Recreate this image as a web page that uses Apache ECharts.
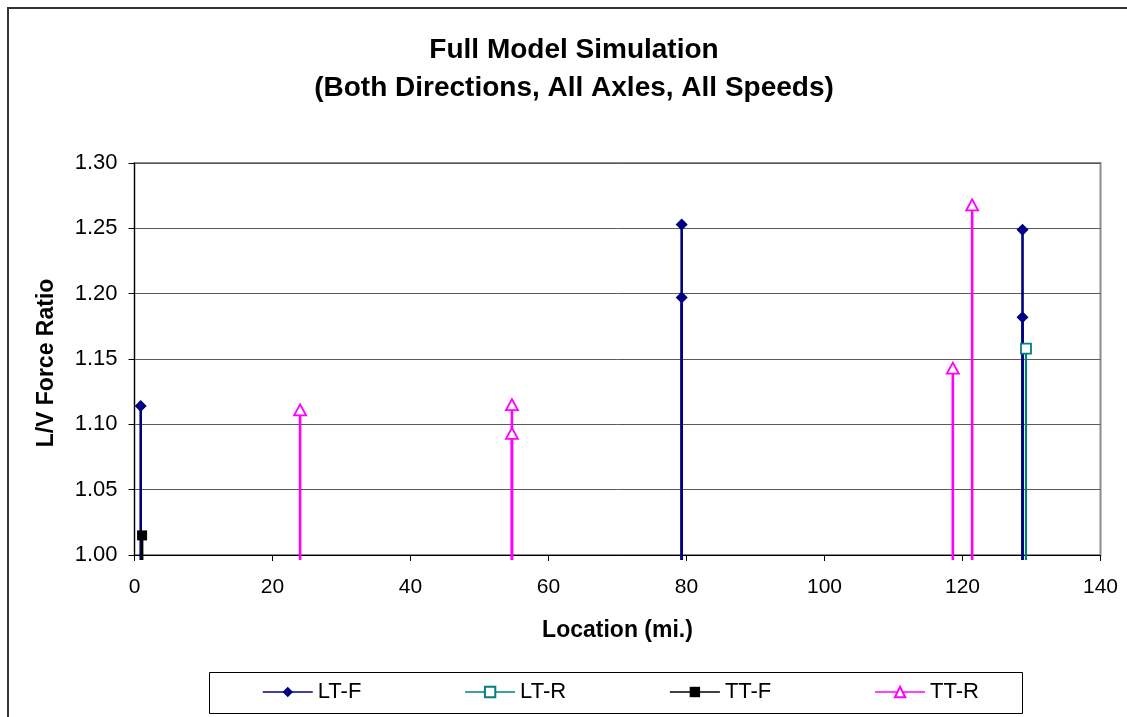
<!DOCTYPE html>
<html>
<head>
<meta charset="utf-8">
<script src="https://cdn.jsdelivr.net/npm/echarts@6/dist/echarts.min.js"></script>
<style>
  html, body { margin: 0; padding: 0; background: #fff; }
  #chart { width: 1127px; height: 717px; }
</style>
</head>
<body>
<div id="chart"></div>
<script>
// L/V force ratio by location, one list of [location, ratio] pairs per series
const ltF = [[0.9, 1.114], [79.3, 1.253], [79.3, 1.197], [128.7, 1.249], [128.7, 1.182]];
const ltR = [[129.2, 1.158]];
const ttF = [[1.1, 1.015]];
const ttR = [[24.0, 1.111], [54.7, 1.115], [54.7, 1.093], [118.6, 1.143], [121.4, 1.268]];

const seriesNames = ['LT-F', 'LT-R', 'TT-F', 'TT-R'];
const xTicks = { min: 0, max: 140, step: 20 };
const yTicks = { min: 1.0, max: 1.3, step: 0.05 };

const FONT = 'Liberation Sans, Arial, sans-serif';

const styles = {
  'LT-F': { color: '#000080', symbol: 'diamond', size: 12, fill: '#000080', stem: 2.6 },
  'LT-R': { color: '#008080', symbol: 'rect', size: 10, fill: '#ffffff', stem: 2.2 },
  'TT-F': { color: '#000000', symbol: 'rect', size: 10, fill: '#000000', stem: 2.6 },
  'TT-R': { color: '#ff00ff', symbol: 'triangle', size: [12, 11], fill: '#ffffff', stem: 2.6 }
};
const dataByName = { 'LT-F': ltF, 'LT-R': ltR, 'TT-F': ttF, 'TT-R': ttR };

// vertical drop line from each point down through the baseline
function stemSeries(name) {
  const st = styles[name];
  return {
    type: 'custom',
    data: dataByName[name],
    encode: { x: 0, y: 1 },
    z: 2,
    silent: true,
    renderItem: function (params, api) {
      const p = api.coord([api.value(0), api.value(1)]);
      const b = api.coord([api.value(0), yTicks.min]);
      return {
        type: 'line',
        shape: { x1: p[0], y1: p[1], x2: p[0], y2: b[1] + 5 },
        style: { stroke: st.color, lineWidth: st.stem }
      };
    }
  };
}

// markers; the connecting line is hidden, only the legend shows it
function markerSeries(name) {
  const st = styles[name];
  return {
    name: name,
    type: 'line',
    data: dataByName[name],
    z: 5,
    symbol: st.symbol,
    symbolSize: st.size,
    showAllSymbol: true,
    lineStyle: { color: st.color, width: 1.5, opacity: 0 },
    itemStyle: { color: st.fill, borderColor: st.color, borderWidth: st.fill === '#ffffff' ? 1.8 : 0 },
    emphasis: { disabled: true }
  };
}

const series = [];
['TT-R', 'LT-F', 'LT-R', 'TT-F'].forEach(n => series.push(stemSeries(n)));
seriesNames.forEach(n => series.push(markerSeries(n)));

const chart = echarts.init(document.getElementById('chart'), null, { renderer: 'canvas' });
chart.setOption({
  animation: false,
  backgroundColor: '#ffffff',
  title: {
    text: 'Full Model Simulation\n(Both Directions, All Axles, All Speeds)',
    left: 569,
    top: 26,
    textAlign: 'center',
    textStyle: { fontFamily: FONT, fontSize: 28, fontWeight: 'bold', color: '#000', lineHeight: 38 }
  },
  grid: {
    left: 134.5, right: 26.5, top: 163, bottom: 162,
    show: true, borderColor: '#8c8c8c', borderWidth: 2, backgroundColor: '#fff'
  },
  xAxis: {
    type: 'value',
    min: xTicks.min, max: xTicks.max, interval: xTicks.step,
    name: 'Location (mi.)',
    nameLocation: 'middle',
    nameGap: 64,
    nameTextStyle: { fontFamily: FONT, fontSize: 23, fontWeight: 'bold', color: '#000' },
    axisLine: { show: true, onZero: false, lineStyle: { color: '#000', width: 1 } },
    axisTick: { show: true, inside: false, length: 6, lineStyle: { color: '#000' } },
    axisLabel: { fontFamily: FONT, fontSize: 21, color: '#000', margin: 22 },
    splitLine: { show: false }
  },
  yAxis: {
    type: 'value',
    min: yTicks.min, max: yTicks.max, interval: yTicks.step,
    name: 'L/V Force Ratio',
    nameLocation: 'middle',
    nameGap: 76,
    nameRotate: 90,
    nameTextStyle: { fontFamily: FONT, fontSize: 23, fontWeight: 'bold', color: '#000', padding: [0, 8, 0, 0] },
    axisLine: { show: true, onZero: false, lineStyle: { color: '#000', width: 1 } },
    axisTick: { show: true, inside: false, length: 6, lineStyle: { color: '#000' } },
    axisLabel: {
      fontFamily: FONT, fontSize: 22, color: '#000', margin: 17,
      formatter: v => v.toFixed(2)
    },
    splitLine: { show: true, lineStyle: { color: '#5a5a5a', width: 1 } }
  },
  legend: {
    data: seriesNames,
    left: 262,
    top: 681,
    padding: 0,
    itemGap: 103,
    itemWidth: 50,
    itemHeight: 13,
    lineStyle: { opacity: 1, width: 1.5 },
    textStyle: { fontFamily: FONT, fontSize: 22, color: '#000' },
    selectedMode: false
  },
  graphic: [
    {
      type: 'rect', silent: true, z: 100,
      shape: { x: 8, y: 8, width: 1300, height: 900 },
      style: { fill: 'none', stroke: '#333', lineWidth: 2 }
    },
    {
      type: 'rect', silent: true, z: 100,
      shape: { x: 209.5, y: 672.5, width: 813, height: 41 },
      style: { fill: 'none', stroke: '#000', lineWidth: 1 }
    }
  ],
  series: series
});
</script>
</body>
</html>
